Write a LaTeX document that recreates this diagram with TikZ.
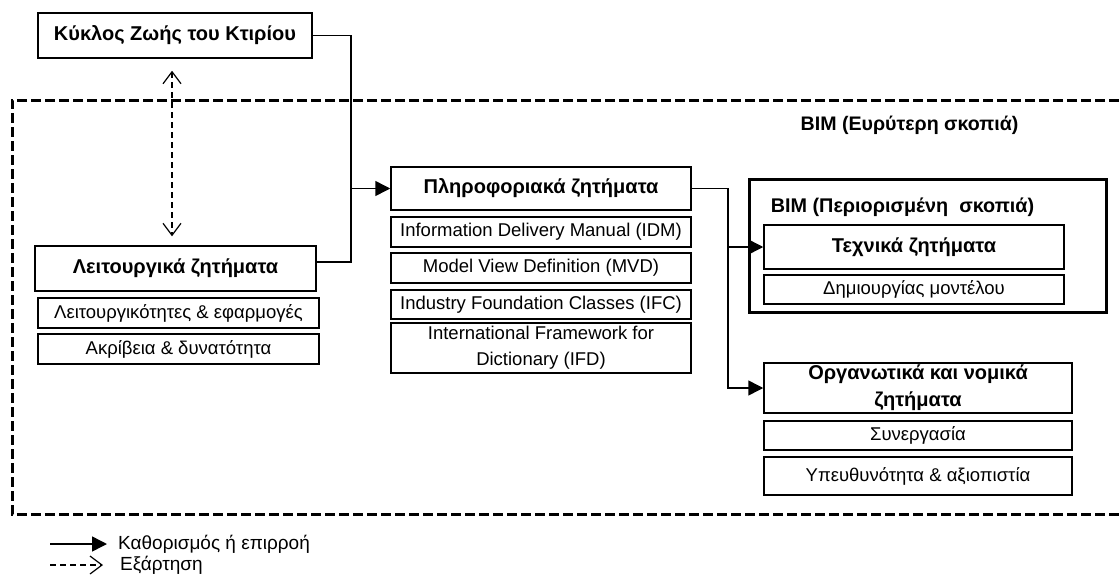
\documentclass[tikz,border=0pt]{standalone}
\usepackage{fontspec}
\setmainfont{Liberation Sans}
\usetikzlibrary{arrows.meta}

\tikzset{
  issue/.style={draw, line width=1.5pt, inner sep=0pt, align=center, font=\fontsize{20}{22}\selectfont\bfseries},
  topic/.style={draw, line width=1.5pt, inner sep=0pt, align=center, font=\fontsize{18.5}{21}\selectfont},
  flow/.style={line width=1.5pt, -{Triangle[length=15pt,width=15pt]}},
  link/.style={line width=1.5pt},
  depend/.style={line width=1.2pt, dash pattern=on 6pt off 4pt, >={Straight Barb[length=12pt,width=18pt]}},
  legend/.style={anchor=west, inner ysep=0pt, font=\fontsize{19}{21}\selectfont},
}

\begin{document}
\begin{tikzpicture}[x=1pt,y=1pt]
        \useasboundingbox (0,0) rectangle (1119,-581);

        % BIM (wider scope)
        \draw[line width=3pt, dash pattern=on 10pt off 4pt] (1119,-100) -- (12,-100) -- (12,-514) -- (1119,-514);
        \node[font=\fontsize{19.6}{22}\selectfont\bfseries] (widelabel) at (909.5,-125) {BIM (Ευρύτερη σκοπιά)};

        % Building life cycle
        \node[issue, minimum width=274pt, minimum height=45pt] (life) at (175,-35.5) {Κύκλος Ζωής του Κτιρίου};

        % Functional issues
        \node[issue, minimum width=281pt, minimum height=45pt] (func) at (175.5,-268.5) {Λειτουργικά ζητήματα};
        \node[topic, minimum width=281pt, minimum height=30pt] (funcapp) at (178.5,-313) {Λειτουργικότητες \& εφαρμογές};
        \node[topic, minimum width=281pt, minimum height=30pt] (funcacc) at (178.5,-349) {Ακρίβεια \& δυνατότητα};

        % Information issues
        \node[issue, minimum width=300pt, minimum height=43pt] (info) at (541,-188.5) {Πληροφοριακά ζητήματα};
        \node[topic, minimum width=300pt, minimum height=30pt] (idm) at (541,-232) {Information Delivery Manual (IDM)};
        \node[topic, minimum width=300pt, minimum height=30pt] (mvd) at (541,-268) {Model View Definition (MVD)};
        \node[topic, minimum width=300pt, minimum height=29pt] (ifc) at (541,-304.5) {Industry Foundation Classes (IFC)};
        \node[topic, minimum width=300pt, minimum height=50pt, font=\fontsize{18.5}{26}\selectfont] (ifd) at (541,-348) {International Framework for\\Dictionary (IFD)};

        % BIM (narrow scope)
        \node[draw, line width=3pt, minimum width=357pt, minimum height=133pt] (narrow) at (927.5,-245.5) {};
        \node[font=\fontsize{19.8}{22}\selectfont\bfseries] (narrowlabel) at (902.5,-207) {BIM (Περιορισμένη \ σκοπιά)};

        % Technical issues
        \node[issue, minimum width=300pt, minimum height=44pt] (tech) at (914,-247) {Τεχνικά ζητήματα};
        \node[topic, minimum width=300pt, minimum height=29pt] (model) at (914,-289.5) {Δημιουργίας μοντέλου};

        % Organisational and legal issues
        \node[issue, minimum width=308pt, minimum height=50pt, font=\fontsize{20}{27}\selectfont\bfseries] (org) at (918,-388) {Οργανωτικά και νομικά\\ζητήματα};
        \node[topic, minimum width=308pt, minimum height=29pt] (coop) at (918,-435.5) {Συνεργασία};
        \node[topic, minimum width=308pt, minimum height=38pt] (resp) at (918,-476) {Υπευθυνότητα \& αξιοπιστία};

        % Connectors
        \coordinate (j1) at (351,-188.5);
        \coordinate (j2) at (728,-247);
        \draw[link] (life.east) -| (j1);
        \draw[link] ([yshift=6.5pt]func.east) -| (j1);
        \draw[flow] (j1) -- (info.west);
        \draw[link] (info.east) -| (j2);
        \draw[flow] (j2) -- (tech.west);
        \draw[flow] (j2) |- (org.west);
        \draw[depend, <->, shorten <=12pt, shorten >=9pt] ([xshift=-3pt]life.south) -- ([xshift=-3.5pt]func.north);

        % Legend
        \coordinate (legflowstart) at (50,-544);
        \coordinate (legdepstart) at (50,-565);
        \node[legend, inner xsep=11pt] (legflow) at (107,-544) {Καθορισμός ή επιρροή};
        \node[legend, inner xsep=17pt] (legdep) at (103,-565) {Εξάρτηση};
        \draw[flow] (legflowstart) -- (legflow.west);
        \draw[depend, ->] (legdepstart) -- (legdep.west);
    \end{tikzpicture}
\end{document}
